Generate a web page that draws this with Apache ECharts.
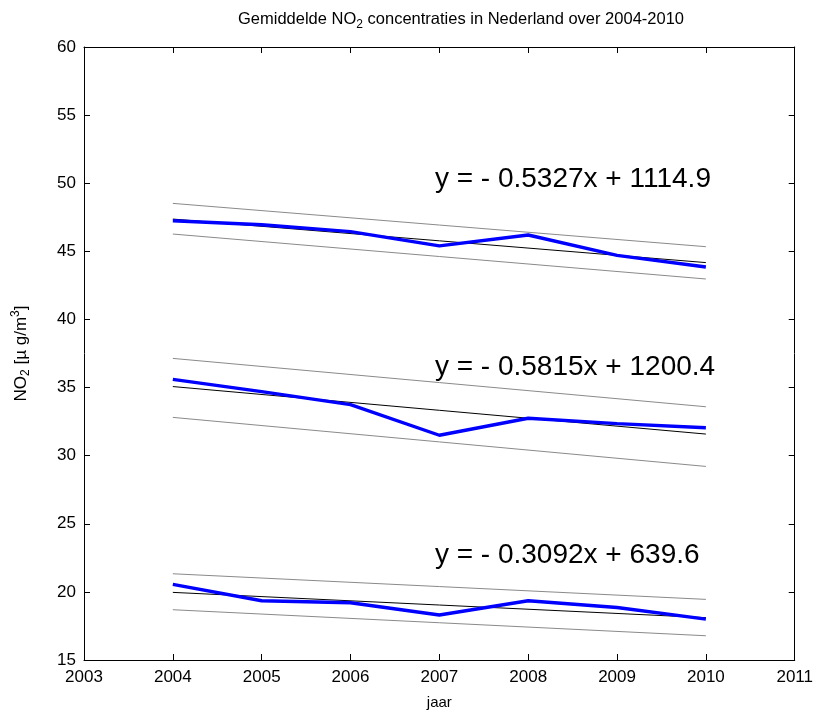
<!DOCTYPE html>
<html>
<head>
<meta charset="utf-8">
<title>Gemiddelde NO2 concentraties in Nederland over 2004-2010</title>
<script src="https://cdn.jsdelivr.net/npm/echarts@6/dist/echarts.min.js"></script>
<style>
  html, body { margin: 0; padding: 0; background: #fff; }
  #chart { width: 816px; height: 717px; }
</style>
</head>
<body>
<div id="chart"></div>
<script>
// Yearly mean NO2 concentrations (µg/m3) for three station groups
const years = [2004, 2005, 2006, 2007, 2008, 2009, 2010];
const groupHigh = [47.25, 46.95, 46.45, 45.4, 46.2, 44.7, 43.85];
const groupMid  = [35.6, 34.7, 33.75, 31.5, 32.75, 32.35, 32.05];
const groupLow  = [20.55, 19.35, 19.2, 18.3, 19.35, 18.85, 18.0];

// Linear fits (y = slope * x + intercept), as printed on the chart
const slopes     = [-0.5327, -0.5815, -0.3092];
const intercepts = [1114.9, 1200.4, 639.6];

// Band edges at the first and last year of each fit
const bandYears = [2004, 2010];
const upperHigh = [48.52, 45.34];
const lowerHigh = [46.27, 42.97];
const upperMid  = [37.14, 33.59];
const lowerMid  = [32.81, 29.21];
const upperLow  = [21.33, 19.45];
const lowerLow  = [18.69, 16.78];

// Where each fit equation is written (left edge, vertical centre)
const labelAnchors = [[2006.95, 50.3], [2006.95, 36.5], [2006.95, 22.7]];

const xTicks = [2003, 2011];
const yRange = [15, 60];

const FONT = '"Liberation Sans", Arial, sans-serif';

function pairs(xs, ys) { return xs.map((x, i) => [x, ys[i]]); }
function fitLine(k) {
  return bandYears.map(x => [x, slopes[k] * x + intercepts[k]]);
}
function eqText(k) {
  const s = Math.abs(slopes[k]).toFixed(4);
  const sign = slopes[k] < 0 ? '- ' : '';
  return 'y = ' + sign + s + 'x + ' + intercepts[k].toFixed(1);
}

const series = [];
const groups = [groupHigh, groupMid, groupLow];
const uppers = [upperHigh, upperMid, upperLow];
const lowers = [lowerHigh, lowerMid, lowerLow];

for (let k = 0; k < 3; k++) {
  // band edges (thin grey)
  [uppers[k], lowers[k]].forEach(edge => {
    series.push({
      type: 'line', data: pairs(bandYears, edge), symbol: 'none', silent: true,
      lineStyle: { color: '#8a8a8a', width: 1 }, z: 2
    });
  });
  // fit line (thin black) with its equation
  series.push({
    type: 'line', data: fitLine(k), symbol: 'none', silent: true,
    lineStyle: { color: '#000', width: 1 }, z: 3,
    markPoint: {
      symbol: 'circle', symbolSize: 0, silent: true,
      data: [{ coord: labelAnchors[k] }],
      label: {
        show: true, position: 'right', distance: 0,
        formatter: eqText(k),
        color: '#000', fontFamily: FONT, fontSize: 28
      }
    }
  });
  // measured yearly means (thick blue)
  series.push({
    type: 'line', data: pairs(years, groups[k]), symbol: 'none', silent: true,
    lineStyle: { color: '#0000ff', width: 3.4 }, z: 4
  });
}

const axisCommon = {
  type: 'value',
  axisLine: { show: true, onZero: false, lineStyle: { color: '#000', width: 1 } },
  axisTick: { show: true, inside: true, length: 6, lineStyle: { color: '#000' } },
  splitLine: { show: false }
};

const chart = echarts.init(document.getElementById('chart'), null, { renderer: 'canvas' });
chart.setOption({
  animation: false,
  backgroundColor: '#fff',
  title: {
    text: 'Gemiddelde NO{sub|2} concentraties in Nederland over 2004-2010',
    left: 456, top: 3, textAlign: 'center',
    textStyle: {
      fontFamily: FONT, fontSize: 16.5, fontWeight: 'normal', color: '#000',
      rich: { sub: { fontFamily: FONT, fontSize: 12, padding: [11, 0, 0, 0], color: '#000' } }
    }
  },
  grid: { left: 84, right: 18, top: 47, bottom: 57, containLabel: false },
  xAxis: [
    Object.assign({}, axisCommon, {
      position: 'bottom', min: xTicks[0], max: xTicks[1], interval: 1,
      axisLabel: { color: '#000', fontFamily: FONT, fontSize: 17, margin: 9, formatter: v => String(v) },
      name: 'jaar', nameLocation: 'middle', nameGap: 35,
      nameTextStyle: { color: '#000', fontFamily: FONT, fontSize: 15 }
    }),
    Object.assign({}, axisCommon, {
      position: 'top', min: xTicks[0], max: xTicks[1], interval: 1,
      axisLabel: { show: false }
    })
  ],
  yAxis: [
    Object.assign({}, axisCommon, {
      position: 'left', min: yRange[0], max: yRange[1], interval: 5,
      axisLabel: { color: '#000', fontFamily: FONT, fontSize: 17, margin: 8 },
      name: 'NO{sub|2} [µ g/m{sup|3}]', nameLocation: 'middle', nameGap: 52, nameRotate: 90,
      nameTextStyle: {
        color: '#000', fontFamily: FONT, fontSize: 17,
        rich: {
          sub: { fontFamily: FONT, fontSize: 12, padding: [10, 0, 0, 0], color: '#000' },
          sup: { fontFamily: FONT, fontSize: 12, padding: [0, 0, 10, 0], color: '#000' }
        }
      }
    }),
    Object.assign({}, axisCommon, {
      position: 'right', min: yRange[0], max: yRange[1], interval: 5,
      axisLabel: { show: false }
    })
  ],
  series: series
});
</script>
</body>
</html>
